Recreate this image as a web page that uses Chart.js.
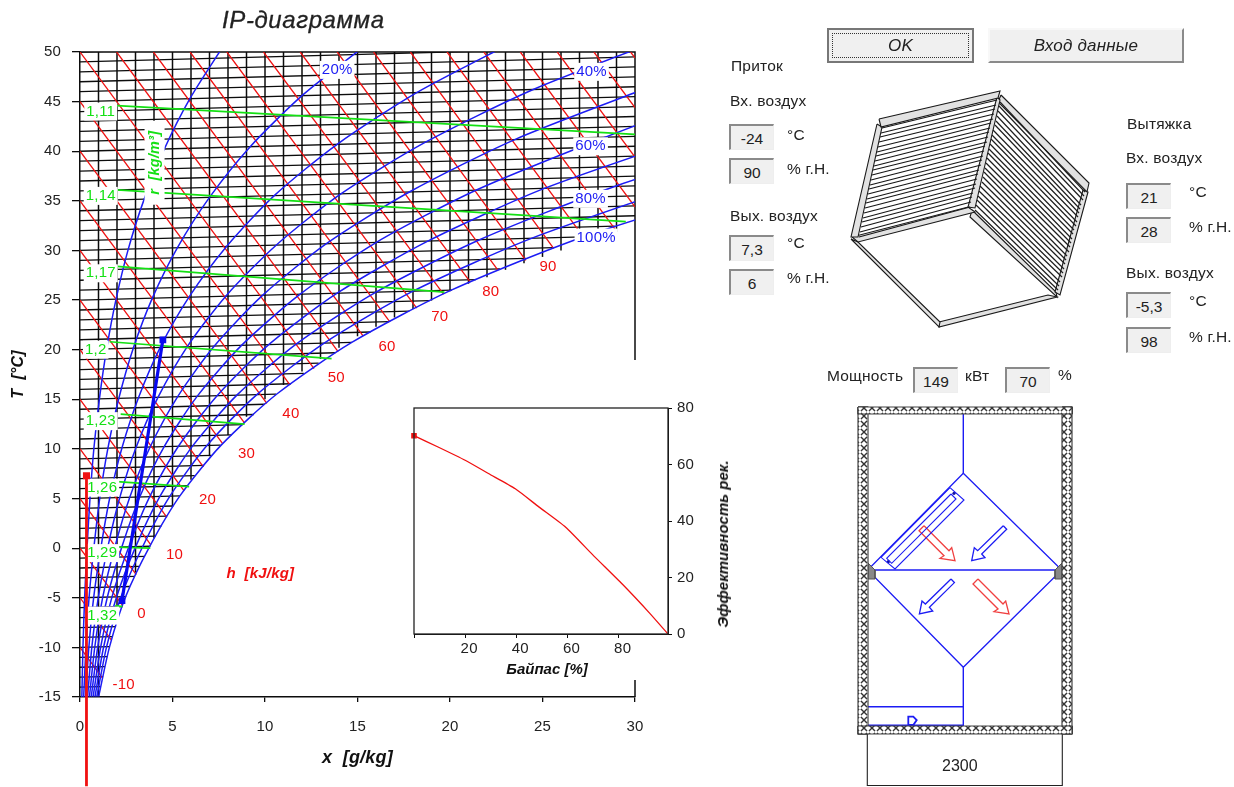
<!DOCTYPE html>
<html>
<head>
<meta charset="utf-8">
<title>IP-диаграмма</title>
<script src="https://cdn.jsdelivr.net/npm/chart.js@4.4.1/dist/chart.umd.js"></script>
<style>
  html, body { margin: 0; background: #fff; }
  body { width: 1234px; height: 787px; position: relative; overflow: hidden; font: 15.5px "Liberation Sans", sans-serif; letter-spacing: 0.2px; color: #222; filter: blur(0.35px); }
  canvas { position: absolute; }
  .t { position: absolute; white-space: nowrap; line-height: 16px; transform: translateY(-8px); }
  .f { position: absolute; width: 45px; height: 26px; line-height: 25px; text-align: center; background: #f0f0f0; box-sizing: border-box;
       border-top: 2px solid #8a8a8a; border-left: 2px solid #8a8a8a; border-right: 1px solid #eee; border-bottom: 1px solid #eee; font-size: 15.5px; letter-spacing: 0; }
  .b { position: absolute; top: 28px; height: 35px; box-sizing: border-box; background: #f0f0f0; text-align: center; font-style: italic; font-size: 17px; line-height: 31px;
       border: 2px solid; border-color: #f8f8f8 #8a8a8a #8a8a8a #f8f8f8; }
  .ok { left: 827px; width: 147px; border-color: #777; }
  .ok span { position: absolute; left: 3px; right: 3px; top: 3px; bottom: 3px; border: 1px dotted #333; line-height: 23px; }
  .in { left: 988px; width: 196px; }
</style>
</head>
<body>
<canvas id="main" width="720" height="787" style="left:0;top:0"></canvas>
<canvas id="inset" width="324" height="320" style="left:396px;top:360px"></canvas>
<canvas id="diagram" width="514" height="787" style="left:720px;top:0"></canvas>

<div class="t" style="left:222px;top:20px;font-style:italic;font-size:24px;letter-spacing:0.6px;-webkit-text-stroke:0.3px #222">IP-диаграмма</div>
<div class="t" style="left:723px;top:544px;font-weight:bold;font-style:italic;transform:translate(-50%,-50%) rotate(-90deg);font-size:15px;letter-spacing:0;color:#111">Эффективность рек.</div>
<div class="t" style="left:547px;top:669px;font-weight:bold;font-style:italic;transform:translate(-50%,-50%);font-size:15px;letter-spacing:0;color:#111">Байпас [%]</div>

<div class="b ok"><span>OK</span></div>
<div class="b in">Вход данные</div>

<div class="t" style="left:731px;top:66px">Приток</div>
<div class="t" style="left:730px;top:101px">Вх. воздух</div>
<div class="f" style="left:729px;top:124px">-24</div><div class="t" style="left:787px;top:135px">°C</div>
<div class="f" style="left:729px;top:158px">90</div><div class="t" style="left:787px;top:169px">% г.Н.</div>
<div class="t" style="left:730px;top:216px">Вых. воздух</div>
<div class="f" style="left:729px;top:235px">7,3</div><div class="t" style="left:787px;top:243px">°C</div>
<div class="f" style="left:729px;top:269px">6</div><div class="t" style="left:787px;top:278px">% г.Н.</div>

<div class="t" style="left:1127px;top:124px">Вытяжка</div>
<div class="t" style="left:1126px;top:158px">Вх. воздух</div>
<div class="f" style="left:1126px;top:183px">21</div><div class="t" style="left:1189px;top:192px">°C</div>
<div class="f" style="left:1126px;top:217px">28</div><div class="t" style="left:1189px;top:227px">% г.Н.</div>
<div class="t" style="left:1126px;top:273px">Вых. воздух</div>
<div class="f" style="left:1126px;top:292px">-5,3</div><div class="t" style="left:1189px;top:301px">°C</div>
<div class="f" style="left:1126px;top:327px">98</div><div class="t" style="left:1189px;top:337px">% г.Н.</div>

<div class="t" style="left:827px;top:376px">Мощность</div>
<div class="f" style="left:913px;top:367px">149</div>
<div class="t" style="left:965px;top:376px">кВт</div>
<div class="f" style="left:1005px;top:367px">70</div>
<div class="t" style="left:1058px;top:375px">%</div>
<div class="t" style="left:942px;top:766px;font-size:16px;letter-spacing:0">2300</div>

<script>
// ---- IP diagram values ----
const xTicksMain = [0, 5, 10, 15, 20, 25, 30]
const isothermTilt = 0.05 // T lines climb this many degrees per g/kg

const rhTemps = [-15, -10, -5, 0, 5, 10, 15, 20, 25, 30, 35, 40, 45, 50]
const rh10 = [0.10, 0.16, 0.25, 0.38, 0.54, 0.75, 1.05, 1.44, 1.95, 2.61, 3.47, 4.56, 5.94, 7.67]
const rh20 = [0.20, 0.32, 0.49, 0.75, 1.07, 1.51, 2.10, 2.88, 3.91, 5.26, 7.0, 9.2, 12.0, 15.5]
const rh30 = [0.30, 0.48, 0.74, 1.13, 1.61, 2.27, 3.16, 4.33, 5.89, 7.92, 10.5, 13.9, 18.2, 23.6]
const rh40 = [0.41, 0.64, 0.99, 1.5, 2.15, 3.03, 4.22, 5.79, 7.88, 10.6, 14.1, 18.7, 24.5, 31.9]
const rh50 = [0.51, 0.80, 1.23, 1.88, 2.69, 3.79, 5.28, 7.26, 9.88, 13.3, 17.8, 23.5, 30.9]
const rh60 = [0.61, 0.96, 1.48, 2.26, 3.23, 4.55, 6.34, 8.73, 11.9, 16.0, 21.4, 28.4, 36]
const rh70 = [0.71, 1.12, 1.73, 2.64, 3.77, 5.32, 7.41, 10.2, 13.9, 18.8, 25.1, 33.4]
const rh80 = [0.81, 1.28, 1.98, 3.01, 4.32, 6.09, 8.48, 11.7, 16.0, 21.6, 28.9, 38]
const rh90 = [0.91, 1.44, 2.22, 3.39, 4.86, 6.86, 9.56, 13.2, 18.0, 24.4, 32.7]
const rh100 = [1.01, 1.60, 2.47, 3.77, 5.40, 7.63, 10.64, 14.69, 20.07, 27.19, 36.5]

// T line -> x where it meets the 100% curve
const isoT = [-15, -14, -13, -12, -11, -10, -9, -8, -7, -6, -5, -4, -3, -2, -1, 0, 1, 2, 3, 4, 5, 6, 7, 8, 9, 10, 11, 12, 13, 14, 15, 16, 17, 18, 19, 20, 21, 22, 23, 24, 25, 26, 27, 28, 29, 30, 31, 32, 33, 34, 35, 36, 37, 38, 39, 40, 41, 42, 43, 44, 45, 46, 47, 48, 49, 50]
const isoEndX = [1.0, 1.1, 1.25, 1.35, 1.5, 1.6, 1.75, 1.95, 2.1, 2.3, 2.5, 2.7, 2.95, 3.2, 3.5, 3.8, 4.1, 4.4, 4.7, 5.0, 5.4, 5.8, 6.2, 6.7, 7.1, 7.6, 8.2, 8.8, 9.4, 10, 10.6, 11.4, 12.1, 12.9, 13.8, 14.7, 15.7, 16.7, 17.8, 18.9, 20.1, 21.4, 22.7, 24.1, 25.6, 27.2, 28.9, 30, 30, 30, 30, 30, 30, 30, 30, 30, 30, 30, 30, 30, 30, 30, 30, 30, 30, 30]

// x line -> y where it leaves the 100% curve
const vertX = [1, 2, 3, 4, 5, 6, 7, 8, 9, 10, 11, 12, 13, 14, 15, 16, 17, 18, 19, 20, 21, 22, 23, 24, 25, 26, 27, 28, 29]
const vertStartY = [-15, -7.2, -2.45, 1, 4.15, 6.9, 9.25, 11.4, 13.25, 15, 16.45, 17.8, 19.05, 20.2, 21.35, 22.3, 23.25, 24.1, 24.95, 25.9, 26.65, 27.3, 28.05, 28.7, 29.35, 30, 30.65, 31.3, 31.85]

// enthalpy lines, start and end on the diagram
const hStartX = [0, 0, 0, 0, 0, 0, 0, 0, 0, 0, 0, 0, 0, 1.98, 3.97, 5.95, 7.94, 9.92, 11.9, 13.9, 15.87, 17.86, 19.84, 21.83, 23.8, 25.8, 27.78, 29.76]
const hStartY = [-10, -5, 0, 5, 10, 15, 20, 25, 30, 35, 40, 45, 50, 50, 50, 50, 50, 50, 50, 50, 50, 50, 50, 50, 50, 50, 50, 50]
const hEndX = [1.22, 1.71, 2.31, 3.04, 3.82, 4.7, 5.62, 6.67, 7.72, 8.9, 10.1, 11.35, 12.65, 13.95, 15.3, 16.75, 18.2, 19.65, 21.1, 22.6, 24.1, 25.6, 27.2, 28.9, 30, 30, 30, 30]
const hEndY = [-13.1, -9.3, -5.8, -2.66, 0.35, 3.1, 5.8, 8.2, 10.5, 12.6, 14.6, 16.45, 18.1, 19.8, 21.4, 22.8, 24.2, 25.6, 26.8, 28, 29, 30.2, 31.4, 32.2, 34.4, 39.4, 44.4, 49.4]

// density lines
const rhoStartX = [2.0, 2.0, 2.0, 1.6, 2.2, 2.0, 2.0, 1.9]
const rhoStartY = [44.6, 36.1, 28.4, 20.8, 13.5, 6.7, 0.1, -5.8]
const rhoEndX = [30, 29.5, 19.7, 13.6, 8.9, 5.9, 3.8, 2.3]
const rhoEndY = [41.7, 32.9, 25.8, 19.1, 12.5, 6.2, 0, -5.9]
const rhoNames = ['1,11', '1,14', '1,17', '1,2', '1,23', '1,26', '1,29', '1,32']
const rhoLabelX = [1.12, 1.12, 1.12, 0.85, 1.12, 1.2, 1.2, 1.2]
const rhoLabelY = [44, 35.5, 27.7, 20, 12.8, 6.1, -0.5, -6.8]

const hNames = ['-10', '0', '10', '20', '30', '40', '50', '60', '70', '80', '90']
const hLabelX = [2.36, 3.33, 5.11, 6.89, 9.0, 11.4, 13.85, 16.6, 19.45, 22.2, 25.3]
const hLabelY = [-13.8, -6.6, -0.7, 4.9, 9.5, 13.5, 17.2, 20.3, 23.3, 25.8, 28.3]

const rhNames = ['20%', '40%', '60%', '80%', '100%']
const rhLabelX = [13.9, 27.65, 27.6, 27.6, 27.9]
const rhLabelY = [48.2, 48, 40.5, 35.2, 31.3]

// process lines
const supplyX = [0.35, 0.35]
const supplyT = [-24, 7.3]
const extractX = [2.27, 4.48]
const extractT = [-5.3, 21]

// ---- bypass inset ----
const bypassPct = [0, 9.4, 20, 29.1, 39.6, 48.8, 59.3, 69.8, 81.6, 92.1, 99.3]
const bypassEff = [70.2, 66.2, 61.5, 56.8, 51.4, 45, 37.8, 28.1, 17.5, 7.4, 0]

// ---- heat exchanger drawing, in diagram units ----
const slatsFront = [
  [882,128,997,100],[881,133,996,105],[880,137,995,109],[879,142,994,114],[878,147,993,119],[877,152,991,123],
  [876,156,990,128],[875,161,989,132],[874,166,988,137],[873,170,987,142],[872,175,985,146],[871,180,984,151],
  [870,185,983,156],[869,189,982,160],[868,194,981,165],[867,199,979,170],[866,203,978,174],[865,208,977,179],
  [864,213,976,184],[863,218,975,188],[862,222,973,193],[861,227,972,197],[860,232,971,202],[859,237,970,207]
]
const slatsSide = [
  [1000,102,1085,192],[999,106,1084,196],[998,111,1083,200],[997,116,1081,205],[996,121,1080,209],[995,125,1079,213],
  [993,130,1078,217],[992,135,1077,222],[991,139,1076,226],[990,144,1074,230],[989,149,1073,234],[988,153,1072,239],
  [987,158,1071,243],[986,163,1070,247],[985,168,1069,252],[984,172,1067,256],[983,177,1066,260],[982,182,1065,264],
  [980,186,1064,269],[979,191,1063,273],[978,196,1062,277],[977,200,1060,282],[976,205,1059,286],[975,210,1058,290]
]
const frameStrips = [
  [879,119, 1000,91, 998,98, 881,127],
  [877,124, 882,127, 858,237, 851,237],
  [997,97, 1000,100, 975,208, 968,207],
  [852,237, 968,207, 975,212, 858,242],
  [1001,95, 1089,183, 1087,192, 998,102],
  [1083,190, 1088,192, 1060,295, 1055,292],
  [972,210, 1056,292, 1057,297, 970,217],
  [851,239, 858,242, 940,322, 939,327],
  [939,322, 1048,295, 1057,297, 939,327]
]
const wallTop = [858, 407, 1072, 407, 1072, 414, 858, 414]
const wallBottom = [858, 726, 1072, 726, 1072, 734, 858, 734]
const wallLeft = [858, 407, 868, 407, 868, 734, 858, 734]
const wallRight = [1062, 407, 1072, 407, 1072, 734, 1062, 734]
const cornerBlocks = [
  [858, 407, 868, 407, 868, 414, 858, 414],
  [1062, 407, 1072, 407, 1072, 414, 1062, 414],
  [858, 726, 868, 726, 868, 734, 858, 734],
  [1062, 726, 1072, 726, 1072, 734, 1062, 734]
]
const damperBlocks = [
  [868, 563, 875, 570, 875, 579, 868, 579],
  [1062, 563, 1055, 570, 1055, 579, 1062, 579]
]
const exchangerDiamond = [963.3, 473.3, 1061.7, 570, 963.3, 667.3, 867.7, 570]
const blueRuns = [
  [963.3, 414, 963.3, 473.3],
  [867.7, 570, 1061.7, 570],
  [963.3, 667.3, 963.3, 726],
  [867.7, 706.7, 963.3, 706.7]
]
const filterOuter = [950, 487.7, 964, 500, 895, 569, 881, 557.3]
const filterInner = [951, 494, 956, 499, 891.7, 563.3, 886.7, 558.3]
const fanShape = [908.3, 725, 908.3, 716.7, 913.3, 716.7, 916.7, 720, 913.3, 725]
const redArrowA = [924, 525.7, 949, 550.7, 951.7, 547.7, 955, 560.7, 940, 558.3, 944, 555.7, 919, 530.7]
const redArrowB = [978, 579, 1003, 604, 1005.7, 601, 1009, 614, 994, 611.6, 998, 609, 973, 584]
const blueArrowA = [1003.3, 525.7, 1006.7, 529.3, 981.7, 554, 985, 557.7, 971.7, 560.7, 974.3, 547.7, 977.7, 550.7]
const blueArrowB = [951, 579, 954.4, 582.6, 929.4, 607.3, 932.7, 611, 919.4, 614, 922, 601, 925.4, 604]
const dimension = [867.3, 734, 867.3, 785.5, 1062.3, 785.5, 1062.3, 734]

const BLUE = '#1c1cf4'
const RED = '#f01010'
const GREEN = '#14e014'
const INK = '#0c0c0c'
const FONT = '"Liberation Sans", sans-serif'

// ---- main diagram ----
function thin(color, width, points, order, extra) {
  return Object.assign({ data: points, borderColor: color, borderWidth: width, pointRadius: 0, showLine: true, order: order }, extra || {})
}

const mainSets = []
isoT.forEach((t, i) => {
  mainSets.push(thin(INK, 1.3, [{ x: 0, y: t }, { x: isoEndX[i], y: t + isothermTilt * isoEndX[i] }], 7))
})
vertX.forEach((x, i) => {
  mainSets.push(thin(INK, 1.5, [{ x: x, y: vertStartY[i] }, { x: x, y: 50 }], 7))
})
mainSets.push(thin(INK, 1.5, [{ x: 0, y: 50 }, { x: 30, y: 50 }, { x: 30, y: -15 }], 7, { clip: false }))
hStartX.forEach((x, i) => {
  mainSets.push(thin(RED, 1.3, [{ x: x, y: hStartY[i] }, { x: hEndX[i], y: hEndY[i] }], 6))
})
;[rh10, rh20, rh30, rh40, rh50, rh60, rh70, rh80, rh90, rh100].forEach(curve => {
  mainSets.push(thin(BLUE, 1.5, curve.map((x, i) => ({ x: x, y: rhTemps[i] + isothermTilt * x })), 5, { tension: 0.25 }))
})
rhoStartX.forEach((x, i) => {
  mainSets.push(thin(GREEN, 1.7, [{ x: x, y: rhoStartY[i] }, { x: rhoEndX[i], y: rhoEndY[i] }], 4))
})
mainSets.push({ label: 'labels', data: [], order: 3 })
mainSets.push({
  data: supplyX.map((x, i) => ({ x: x, y: supplyT[i] })), showLine: true, borderColor: RED, borderWidth: 2.8,
  pointStyle: 'rect', pointRadius: 3, backgroundColor: RED, borderJoinStyle: 'miter', order: 1, clip: false
})
mainSets.push({
  data: extractX.map((x, i) => ({ x: x, y: extractT[i] })), showLine: true, borderColor: '#0808f0', borderWidth: 3.2,
  pointStyle: 'rect', pointRadius: 2.5, backgroundColor: '#0808f0', order: 1
})

function boxedText(ctx, text, px, py, color, font) {
  ctx.font = font
  const w = ctx.measureText(text).width
  ctx.fillStyle = '#fff'
  ctx.fillRect(px - w / 2 - 2, py - 9, w + 4, 18)
  ctx.fillStyle = color
  ctx.fillText(text, px, py)
}

const diagramLabels = {
  id: 'diagramLabels',
  afterDatasetDraw(chart, args) {
    if (chart.data.datasets[args.index].label !== 'labels') return
    const { ctx, scales: { x, y } } = chart
    ctx.save()
    ctx.textAlign = 'center'
    ctx.textBaseline = 'middle'
    const f = '15px ' + FONT
    rhoNames.forEach((n, i) => boxedText(ctx, n, x.getPixelForValue(rhoLabelX[i]), y.getPixelForValue(rhoLabelY[i]), GREEN, f))
    rhNames.forEach((n, i) => boxedText(ctx, n, x.getPixelForValue(rhLabelX[i]), y.getPixelForValue(rhLabelY[i]), BLUE, f))
    hNames.forEach((n, i) => boxedText(ctx, n, x.getPixelForValue(hLabelX[i]), y.getPixelForValue(hLabelY[i]), RED, f))
    ctx.font = 'italic bold 15px ' + FONT
    ctx.fillStyle = RED
    ctx.fillText('h  [kJ/kg]', x.getPixelForValue(9.75), y.getPixelForValue(-2.6))
    // rotated density title
    ctx.translate(x.getPixelForValue(4.03), y.getPixelForValue(38.84))
    ctx.rotate(-Math.PI / 2)
    ctx.fillStyle = '#fff'
    ctx.fillRect(-42, -10, 84, 20)
    ctx.fillStyle = GREEN
    ctx.font = 'italic bold 14.5px ' + FONT
    ctx.fillText('r  [kg/m³]', 0, 0)
    ctx.restore()
  }
}

new Chart(document.getElementById('main'), {
  type: 'scatter',
  data: { datasets: mainSets },
  plugins: [diagramLabels],
  options: {
    responsive: false,
    animation: false,
    layout: { autoPadding: false, padding: { top: 52, right: 85 } },
    plugins: { legend: { display: false }, tooltip: { enabled: false } },
    scales: {
      x: {
        type: 'linear', min: 0, max: 30,
        afterFit(s) { s.height = 90 },
        afterBuildTicks(s) { s.ticks = xTicksMain.map(v => ({ value: v })) },
        grid: { drawOnChartArea: false, tickLength: 5, color: INK, lineWidth: 1.3 },
        border: { color: INK, width: 1.5 },
        ticks: { color: '#222', padding: 16, maxRotation: 0, font: { family: FONT, size: 15 } },
        title: { display: true, text: 'x  [g/kg]', color: '#111', padding: { top: 0, bottom: 18 }, font: { family: FONT, size: 18, style: 'italic', weight: 'bold' } }
      },
      y: {
        type: 'linear', min: -15, max: 50,
        afterFit(s) { s.width = 80 },
        grid: { drawOnChartArea: false, tickLength: 8, color: INK, lineWidth: 1.3 },
        border: { color: INK, width: 1.5 },
        ticks: { stepSize: 5, color: '#222', padding: 11, font: { family: FONT, size: 15 } },
        title: { display: true, text: 'T  [°C]', color: '#111', padding: { top: 9, bottom: 0 }, font: { family: FONT, size: 16, style: 'italic', weight: 'bold' } }
      }
    }
  }
})

// ---- bypass inset, its white page hides the diagram behind it ----
const whitePage = {
  id: 'whitePage',
  beforeDraw(chart) {
    chart.ctx.fillStyle = '#fff'
    chart.ctx.fillRect(0, 0, chart.width, chart.height)
  },
  afterDraw(chart) {
    const { ctx, chartArea: a } = chart
    ctx.strokeStyle = '#222'
    ctx.lineWidth = 1.3
    ctx.strokeRect(a.left, a.top, a.right - a.left, a.bottom - a.top)
  }
}

new Chart(document.getElementById('inset'), {
  type: 'scatter',
  data: {
    datasets: [{
      data: bypassPct.map((x, i) => ({ x: x, y: bypassEff[i] })), showLine: true, borderColor: RED, borderWidth: 1.3, tension: 0.2,
      pointStyle: 'rect', backgroundColor: RED, borderJoinStyle: 'round',
      pointRadius: ctx => (ctx.dataIndex === 0 ? 3 : 0), clip: false
    }]
  },
  plugins: [whitePage],
  options: {
    responsive: false,
    animation: false,
    layout: { autoPadding: false, padding: { left: 18, top: 48 } },
    plugins: { legend: { display: false }, tooltip: { enabled: false } },
    scales: {
      x: {
        type: 'linear', min: 0, max: 99.3,
        afterFit(s) { s.height = 46 },
        grid: { drawOnChartArea: false, tickLength: 4, color: INK },
        border: { color: INK },
        ticks: { stepSize: 20, includeBounds: false, color: '#222', padding: 2, labelOffset: 4, maxRotation: 0, font: { family: FONT, size: 15 }, callback: v => (v === 0 ? '' : v) }
      },
      y: {
        type: 'linear', position: 'right', min: 0, max: 80,
        afterFit(s) { s.width = 52 },
        grid: { drawOnChartArea: false, tickLength: 4, color: INK },
        border: { color: INK },
        ticks: { stepSize: 20, color: '#222', padding: 5, font: { family: FONT, size: 15 } }
      }
    }
  }
})

// ---- exchanger sketch and plan view ----
function toPoints(flat) {
  const pts = []
  for (let i = 0; i < flat.length; i += 2) pts.push({ x: flat[i], y: flat[i + 1] })
  return pts
}
function outline(flat, color, width, fill) {
  const pts = toPoints(flat)
  pts.push(pts[0])
  return { data: pts, showLine: true, pointRadius: 0, borderColor: color, borderWidth: width, backgroundColor: fill || 'transparent', fill: fill ? 'shape' : false }
}
function run(flat, color, width) {
  return { data: toPoints(flat), showLine: true, pointRadius: 0, borderColor: color, borderWidth: width, fill: false }
}

// insulation hatch for the walls
const tile = document.createElement('canvas')
tile.width = 8
tile.height = 8
const tc = tile.getContext('2d')
tc.fillStyle = '#fff'
tc.fillRect(0, 0, 8, 8)
tc.strokeStyle = '#333'
tc.lineWidth = 1.4
tc.beginPath()
tc.moveTo(0, 0); tc.lineTo(8, 8); tc.moveTo(8, 0); tc.lineTo(0, 8)
tc.stroke()
tc.fillStyle = '#fff'
tc.beginPath()
tc.arc(4, 4, 1.4, 0, 7)
tc.fill()
const hatch = tc.createPattern(tile, 'repeat')

const sketchSets = []
slatsFront.forEach(s => sketchSets.push(run(s, '#161616', 1.2)))
slatsSide.forEach(s => sketchSets.push(run(s, '#1e1e1e', 1.2)))
frameStrips.forEach(s => sketchSets.push(outline(s, '#1a1a1a', 1.1, '#e2e2e2')))
;[wallTop, wallBottom, wallLeft, wallRight].forEach(w => sketchSets.push(outline(w, '#444', 1.2, hatch)))
cornerBlocks.forEach(c => sketchSets.push(outline(c, '#000', 1, '#000')))
damperBlocks.forEach(c => sketchSets.push(outline(c, '#555', 1, '#888')))
sketchSets.push(outline(exchangerDiamond, BLUE, 1.3))
blueRuns.forEach(r => sketchSets.push(run(r, BLUE, 1.4)))
sketchSets.push(run([867.7, 725.7, 963.3, 725.7], BLUE, 2.2))
sketchSets.push(outline(filterOuter, BLUE, 1.1))
sketchSets.push(outline(filterInner, BLUE, 1.1))
sketchSets.push({ data: toPoints([954, 493.3, 888.3, 561.7]), pointRadius: 1.6, backgroundColor: '#1010a0', borderWidth: 0 })
sketchSets.push(outline(fanShape, BLUE, 1.8))
sketchSets.push(outline(redArrowA, '#f04040', 1.3))
sketchSets.push(outline(redArrowB, '#f04040', 1.3))
sketchSets.push(outline(blueArrowA, BLUE, 1.3))
sketchSets.push(outline(blueArrowB, BLUE, 1.3))
sketchSets.push(run(dimension, '#222', 1.1))

new Chart(document.getElementById('diagram'), {
  type: 'scatter',
  data: { datasets: sketchSets },
  options: {
    responsive: false,
    animation: false,
    layout: { autoPadding: false, padding: 0 },
    plugins: { legend: { display: false }, tooltip: { enabled: false } },
    scales: {
      x: { type: 'linear', min: 720, max: 1234, display: false },
      y: { type: 'linear', min: 0, max: 787, reverse: true, display: false }
    }
  }
})
</script>
</body>
</html>
